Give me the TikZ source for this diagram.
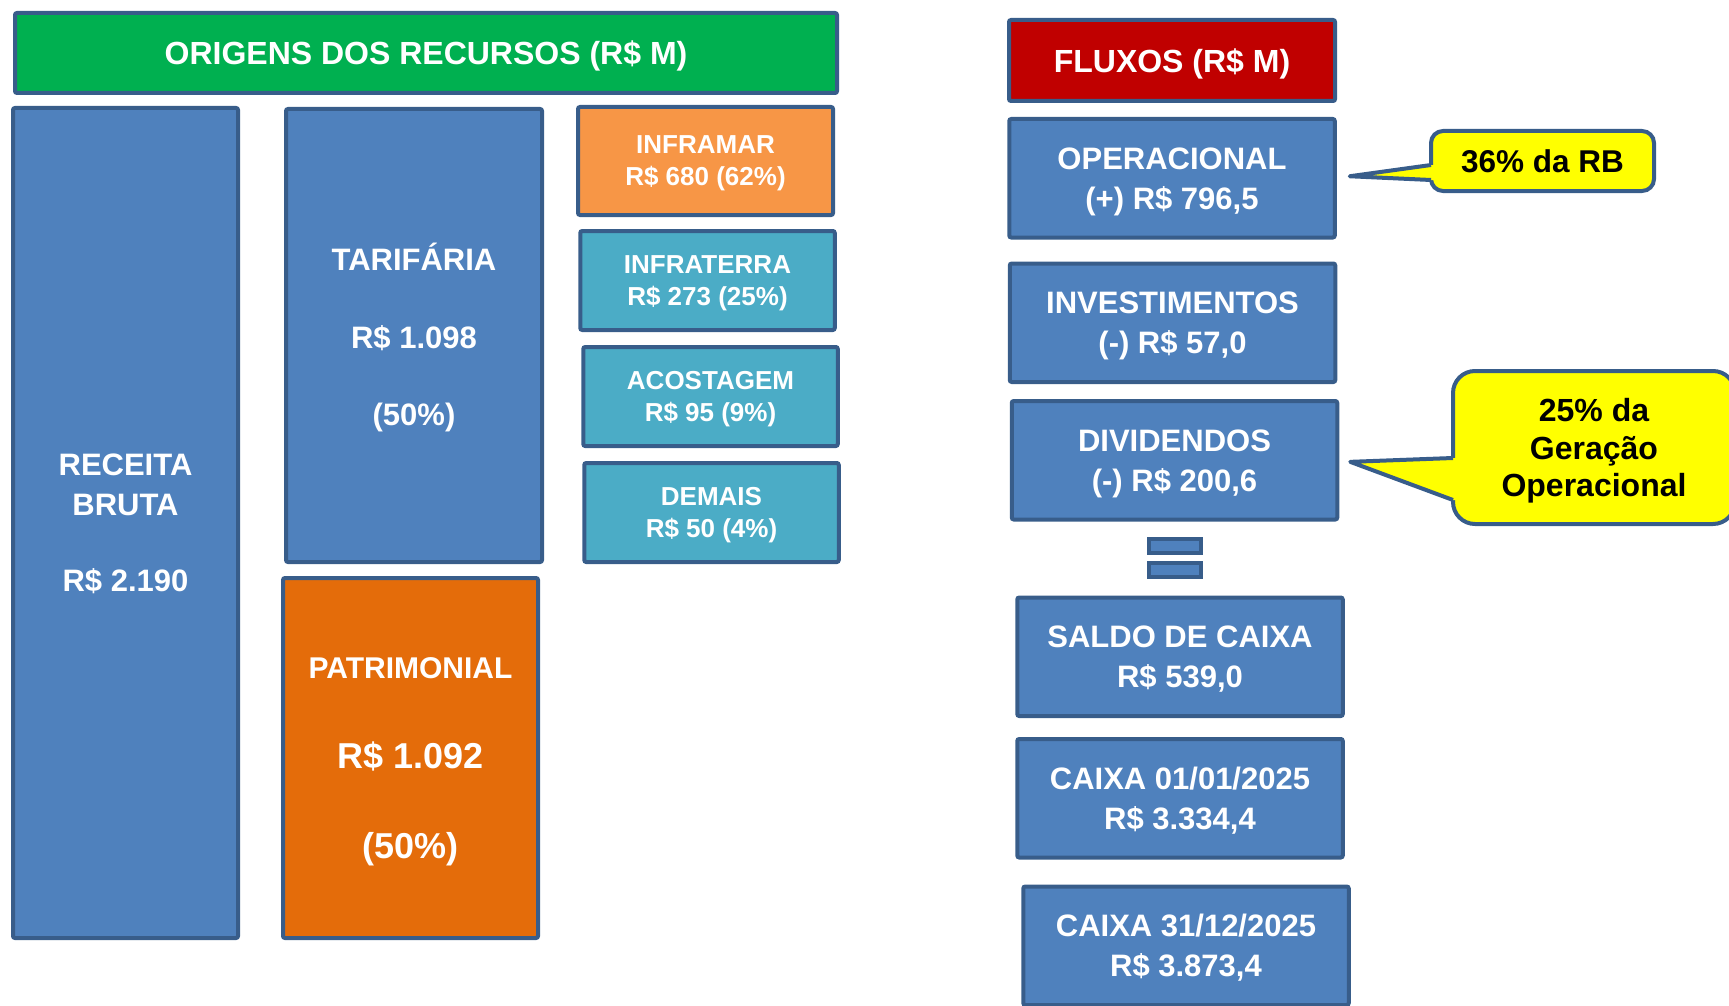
\documentclass[tikz,border=0pt]{standalone}
\usepackage{fontspec}
\setmainfont{Liberation Sans}
\usetikzlibrary{positioning,calc}
\definecolor{azul}{HTML}{4F81BD}
\definecolor{bordo}{HTML}{385D8A}
\definecolor{verde}{HTML}{00B050}
\definecolor{vermelho}{HTML}{C00000}
\definecolor{laranja}{HTML}{E46C0A}
\definecolor{laranjaclaro}{HTML}{F79646}
\definecolor{ciano}{HTML}{4BACC6}
\definecolor{amarelo}{HTML}{FFFF00}
\tikzset{
  caixa/.style   = {draw=bordo, line width=2pt, rectangle, rounded corners=1pt,
                    align=center, text=white, inner sep=0pt,
                    font=\bfseries\fontsize{15.5}{20}\selectfont},
  titulo/.style  = {caixa, text depth=0pt, font=\bfseries\fontsize{16}{20}\selectfont},
  pequena/.style = {caixa, fill=ciano, minimum width=127.25pt, minimum height=49.5pt,
                    text depth=-1.4pt, font=\bfseries\fontsize{13}{16}\selectfont},
  fluxo/.style   = {caixa, fill=azul, minimum width=162.75pt, minimum height=59.25pt,
                    text depth=-1.2pt},
  igual/.style   = {caixa, fill=azul, rounded corners=0pt, minimum width=26pt,
                    minimum height=7pt},
  balao/.style   = {draw=bordo, line width=2pt, fill=amarelo, rounded corners=6pt,
                    align=center, inner sep=0pt,
                    font=\bfseries\fontsize{15.75}{18.75}\selectfont}
}

\begin{document}
\begin{tikzpicture}[x=1pt, y=1pt]
\useasboundingbox (0,0) rectangle (864.5,-503);
\clip (0,0) rectangle (864.5,-503);

% origens dos recursos
\node[titulo, fill=verde, minimum width=411pt, minimum height=40pt] (origens)
  at (213,-26.5) {ORIGENS DOS RECURSOS (R\$ M)};
\node[caixa, fill=azul, minimum width=112.5pt, minimum height=415pt, text depth=0pt]
  (receita) at (62.75,-261.5) {RECEITA\\BRUTA\\[18pt]R\$ 2.190};
\node[caixa, fill=azul, minimum width=128pt, minimum height=226.5pt, text depth=1.2pt]
  (tarifaria) at (207,-167.75) {TARIFÁRIA\\[18.6pt]R\$ 1.098\\[18.6pt](50\%)};
\node[caixa, fill=laranja, minimum width=127.5pt, minimum height=180pt, text depth=-1.2pt,
  font=\bfseries\fontsize{18}{22}\selectfont, below=6pt of tarifaria, xshift=-1.75pt]
  (patrimonial) {{\fontsize{15}{22}\selectfont PATRIMONIAL}\\[23pt]R\$ 1.092\\[23pt](50\%)};

% receitas tarifarias
\node[pequena, fill=laranjaclaro, minimum width=127.5pt, minimum height=54pt] (inframar)
  at (352.75,-80.5) {INFRAMAR\\R\$ 680 (62\%)};
\node[pequena, below=6pt of inframar, xshift=1pt] (infraterra) {INFRATERRA\\R\$ 273 (25\%)};
\node[pequena, below=6.5pt of infraterra, xshift=1.5pt] (acostagem) {ACOSTAGEM\\R\$ 95 (9\%)};
\node[pequena, below=6.5pt of acostagem, xshift=0.5pt] (demais) {DEMAIS\\R\$ 50 (4\%)};

% fluxos
\node[titulo, fill=vermelho, minimum width=163pt, minimum height=40.5pt] (fluxos)
  at (586,-30.25) {FLUXOS (R\$ M)};
\node[fluxo, below=7pt of fluxos] (operacional) {OPERACIONAL\\(+) R\$ 796,5};
\node[fluxo, below=11pt of operacional, xshift=0.25pt] (investimentos) {INVESTIMENTOS\\(-) R\$ 57,0};
\node[fluxo, below=7.5pt of investimentos, xshift=1pt] (dividendos) {DIVIDENDOS\\(-) R\$ 200,6};
\node[igual, below=7.5pt of dividendos, xshift=0.25pt] (igual1) {};
\node[igual, below=3pt of igual1] (igual2) {};
\node[fluxo, below=8.5pt of igual2, xshift=2.5pt] (saldo) {SALDO DE CAIXA\\R\$ 539,0};
\node[fluxo, below=9.5pt of saldo] (caixaini) {CAIXA 01/01/2025\\R\$ 3.334,4};
\node[fluxo, below=12.5pt of caixaini, xshift=3pt] (caixafim) {CAIXA 31/12/2025\\R\$ 3.873,4};

% baloes
\node[balao, minimum width=111.5pt, minimum height=30pt] (balao1)
  at (771.25,-80.5) {36\% da RB};
\node[balao, minimum width=141pt, minimum height=76.5pt, rounded corners=11pt,
  text depth=-1pt, font=\bfseries\fontsize{16}{18.75}\selectfont]
  (balao2) at (797,-223.75) {25\% da\\Geração\\Operacional};
\coordinate (ponta1) at ($(operacional.east)+(6.5,1)$);
\coordinate (ponta2) at ($(dividendos.east)+(5.5,-0.8)$);

\fill[amarelo] (ponta1) -- ($(balao1.west)+(1,-2)$) -- ++(2.2,0)
  -- ($(balao1.west)+(3.2,-9.5)$) -- ++(-2.2,0) -- cycle;
\draw[bordo, line width=2pt, line join=round]
  ($(balao1.west)+(1,-2)$) -- (ponta1) -- ($(balao1.west)+(1,-9.5)$);

\fill[amarelo] (ponta2) -- ($(balao2.west)+(1,-5.25)$) -- ++(2.2,0)
  -- ($(balao2.west)+(3.2,-26.25)$) -- ++(-2.2,0) -- cycle;
\draw[bordo, line width=2pt, line join=round]
  ($(balao2.west)+(1,-5.25)$) -- (ponta2) -- ($(balao2.west)+(1,-26.25)$);
\end{tikzpicture}
\end{document}
